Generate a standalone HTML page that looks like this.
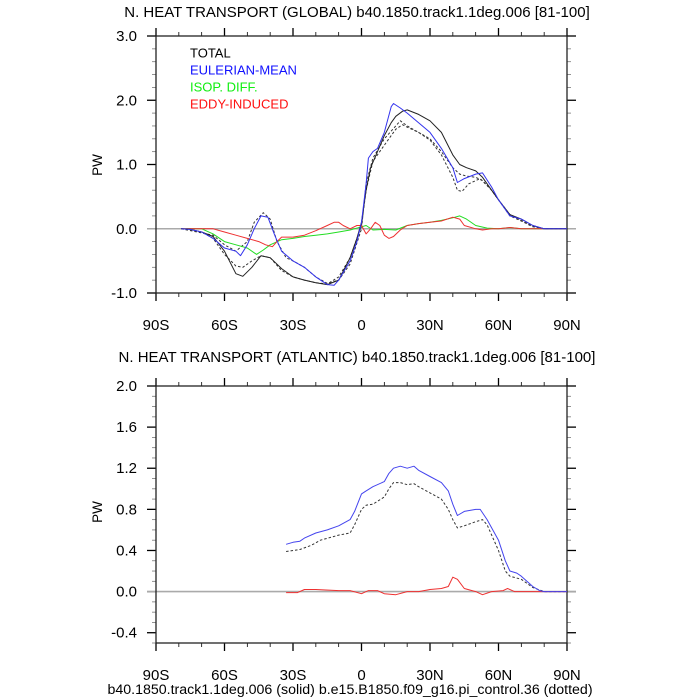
<!DOCTYPE html>
<html><head><meta charset="utf-8">
<style>
body{margin:0;background:#fff;}
svg{display:block;font-family:"Liberation Sans",sans-serif;}
</style></head>
<body>
<svg id="c" width="700" height="700" viewBox="0 0 700 700">
<text x="357" y="17" font-size="15" text-anchor="middle">N. HEAT TRANSPORT (GLOBAL) b40.1850.track1.1deg.006 [81-100]</text>
<text x="357" y="362" font-size="15" text-anchor="middle">N. HEAT TRANSPORT (ATLANTIC) b40.1850.track1.1deg.006 [81-100]</text>
<text x="350" y="694" font-size="14.2" text-anchor="middle">b40.1850.track1.1deg.006 (solid) b.e15.B1850.f09_g16.pi_control.36 (dotted)</text>
<text transform="translate(102,165) rotate(-90)" font-size="13.5" text-anchor="middle">PW</text>
<text transform="translate(102,512) rotate(-90)" font-size="13.5" text-anchor="middle">PW</text>
<g font-size="13">
<text x="190" y="57.5" fill="#000">TOTAL</text>
<text x="190" y="74.5" fill="#1010ff">EULERIAN-MEAN</text>
<text x="190" y="91.5" fill="#10ee10">ISOP. DIFF.</text>
<text x="190" y="108.5" fill="#ff1010">EDDY-INDUCED</text>
</g>
</svg>
<script>
// ---- Global panel data ----
const gTotLat=[-79,-75,-70,-65,-60,-55,-52,-48,-44,-40,-35,-30,-25,-20,-15,-10,-5,-2,0,2,4,7,10,13,15,18,20,25,30,35,40,43,46,50,53,57,60,65,70,75,80,85,90];
const gTotVal=[0,-0.01,-0.05,-0.12,-0.35,-0.7,-0.74,-0.6,-0.42,-0.45,-0.62,-0.75,-0.8,-0.84,-0.87,-0.8,-0.45,-0.15,0.1,0.6,0.95,1.2,1.45,1.65,1.75,1.83,1.85,1.78,1.68,1.5,1.15,1.0,0.95,0.9,0.8,0.6,0.45,0.22,0.15,0.05,0,0,0];
const gEulLat=[-79,-75,-70,-65,-60,-55,-53,-50,-47,-44,-41,-38,-35,-30,-25,-20,-15,-12,-10,-5,-2,0,2,3,5,7,10,13,14,17,20,25,30,35,40,42,45,50,53,57,60,65,70,75,80,90];
const gEulVal=[0,-0.01,-0.05,-0.15,-0.3,-0.35,-0.42,-0.25,0.0,0.2,0.18,-0.1,-0.35,-0.5,-0.6,-0.75,-0.87,-0.88,-0.8,-0.5,-0.2,0.1,0.7,1.1,1.2,1.25,1.5,1.9,1.95,1.88,1.8,1.65,1.5,1.25,0.95,0.72,0.78,0.85,0.87,0.65,0.45,0.2,0.15,0.05,0,0];
const gTotCtlLat=[-79,-70,-65,-60,-55,-52,-48,-44,-40,-35,-30,-25,-20,-15,-10,-5,0,2,5,10,15,18,20,25,30,35,40,43,46,50,53,57,60,65,70,75,80,90];
const gTotCtlVal=[0,-0.05,-0.15,-0.4,-0.58,-0.6,-0.5,-0.42,-0.45,-0.65,-0.75,-0.8,-0.84,-0.86,-0.75,-0.45,0.05,0.6,1.05,1.3,1.55,1.62,1.58,1.5,1.4,1.2,0.95,0.85,0.82,0.8,0.75,0.6,0.45,0.22,0.13,0.04,0,0];
const gEulCtlLat=[-79,-65,-60,-55,-50,-47,-43,-40,-37,-33,-30,-25,-20,-15,-10,-5,0,2,5,10,15,17,20,25,30,35,40,42,44,47,52,57,60,65,70,75,80,90];
const gEulCtlVal=[0,-0.1,-0.25,-0.35,-0.2,0.1,0.25,0.15,-0.2,-0.45,-0.5,-0.6,-0.75,-0.85,-0.8,-0.55,0,0.7,1.1,1.4,1.6,1.68,1.6,1.5,1.38,1.15,0.8,0.6,0.58,0.7,0.78,0.6,0.45,0.2,0.12,0.03,0,0];
const gIsoLat=[-79,-70,-65,-60,-55,-50,-46,-43,-40,-35,-30,-25,-20,-15,-10,-5,0,2,5,10,15,20,25,30,35,40,43,46,50,55,60,65,70,80,90];
const gIsoVal=[0,0,-0.08,-0.2,-0.25,-0.3,-0.4,-0.33,-0.25,-0.17,-0.15,-0.12,-0.1,-0.08,-0.05,-0.02,0.03,0.05,-0.02,-0.01,-0.02,0.05,0.08,0.1,0.13,0.17,0.2,0.15,0.05,0.01,0,0.02,0,0,0];
const gEddLat=[-79,-70,-65,-60,-55,-50,-45,-42,-39,-37,-35,-30,-25,-20,-15,-12,-10,-8,-5,-2,0,2,4,6,8,10,12,14,17,20,25,30,35,40,43,45,50,53,57,60,65,70,80,90];
const gEddVal=[0,0,0,-0.05,-0.1,-0.15,-0.2,-0.25,-0.28,-0.2,-0.13,-0.13,-0.1,-0.03,0.05,0.1,0.1,0.05,0,0.05,0.05,-0.08,0,0.1,0.05,-0.1,-0.15,-0.12,-0.02,0.05,0.08,0.1,0.12,0.18,0.15,0.05,0,-0.02,0,0,0.02,0,0,0];
// ---- Atlantic panel data ----
const aEulLat=[-33,-30,-27,-25,-20,-15,-10,-5,-3,0,2,5,10,12,14,17,20,23,25,30,35,38,40,42,45,50,52,55,60,63,65,68,70,75,78,80,90];
const aEulVal=[0.46,0.48,0.49,0.52,0.57,0.6,0.64,0.7,0.78,0.95,0.98,1.02,1.07,1.15,1.2,1.22,1.2,1.22,1.18,1.12,1.06,0.98,0.85,0.74,0.78,0.8,0.8,0.7,0.5,0.3,0.2,0.18,0.15,0.05,0.01,0,0];
const aCtlLat=[-33,-27,-22,-18,-10,-5,-3,0,2,5,10,12,14,17,20,23,25,30,35,38,40,42,45,50,53,55,60,63,65,70,75,80,90];
const aCtlVal=[0.39,0.41,0.45,0.5,0.55,0.57,0.65,0.8,0.84,0.85,0.92,1.0,1.06,1.06,1.04,1.05,1.02,0.96,0.9,0.8,0.7,0.62,0.64,0.68,0.7,0.65,0.4,0.2,0.15,0.12,0.04,0,0];
const aEddLat=[-33,-28,-25,-20,-10,-5,0,3,7,10,15,20,25,30,35,38,40,42,45,50,53,57,62,64,67,75,90];
const aEddVal=[-0.01,-0.01,0.02,0.02,0.01,0.01,-0.02,0.01,0.01,-0.02,-0.03,0,0,0.02,0.03,0.05,0.14,0.12,0.03,0,-0.03,0,0.01,0.03,0,0,0];
const xTickLabels=["90S","60S","30S","0","30N","60N","90N"];
const gYTicks=["-1.0","0.0","1.0","2.0","3.0"];
const aYTicks=["-0.4","0.0","0.4","0.8","1.2","1.6","2.0"];

const svg=document.getElementById('c');
const NS='http://www.w3.org/2000/svg';
const L=156,R=567;
const xs=lat=>L+(lat+90)/180*(R-L);
function mk(tag,at){const e=document.createElementNS(NS,tag);for(const k in at)e.setAttribute(k,at[k]);svg.appendChild(e);return e;}

function panel(name,top,bot,ymin,ymax,yminor,yLabels){
  const ys=v=>bot-(v-ymin)/(ymax-ymin)*(bot-top);
  for(let lat=-90;lat<=90;lat+=10){
    const maj=lat%30===0, len=maj?8:4, x=xs(lat);
    const t1=mk('line',{x1:x,y1:bot,x2:x,y2:bot+len,stroke:'#000','stroke-width':maj?1.3:0.8});
    
    
    const t2=mk('line',{x1:x,y1:top,x2:x,y2:top-len,stroke:'#000','stroke-width':maj?1.3:0.8});
    
    
  }
  xTickLabels.forEach((s,i)=>{
    const t=mk('text',{x:xs(-90+30*i),y:bot+37,'font-size':15,'text-anchor':'middle'});
    t.textContent=s;
    
    
  });
  const nMin=Math.round((ymax-ymin)/yminor);
  for(let i=0;i<=nMin;i++){
    const v=ymin+i*yminor, y=ys(v);
    const isMaj=yLabels.some(s=>Math.abs(parseFloat(s)-v)<1e-6);
    const len=isMaj?9:4;
    const a=mk('line',{x1:L,y1:y,x2:L-len,y2:y,stroke:isMaj?'#000':'#777','stroke-width':isMaj?1.3:0.8});
    
    
    const b=mk('line',{x1:R,y1:y,x2:R+len,y2:y,stroke:isMaj?'#000':'#777','stroke-width':isMaj?1.3:0.8});
    
    
  }
  yLabels.forEach(s=>{
    const t=mk('text',{x:137,y:ys(parseFloat(s))+5,'font-size':15,'text-anchor':'end'});
    t.textContent=s;
    
    
  });
  const z=mk('line',{x1:L-9,y1:ys(0),x2:R+9,y2:ys(0),stroke:'#aaa','stroke-width':1.6});
  
  
  const f=mk('rect',{x:L,y:top,width:R-L,height:bot-top,fill:'none',stroke:'#222','stroke-width':1.3});
  
  
  return ys;
}
function series(ys,lats,vals,color,dotted,name){
  const d=lats.map((la,i)=>(i?'L':'M')+xs(la).toFixed(1)+' '+ys(vals[i]).toFixed(1)).join(' ');
  const p=mk('path',{d:d,fill:'none',stroke:color,'stroke-width':1,'stroke-dasharray':dotted?'2.5 2':'none','stroke-linejoin':'round'});
  
  
}
const gy=panel('global',36,293,-1,3,0.2,gYTicks);
series(gy,gTotCtlLat,gTotCtlVal,'#333',true,'global-total-control-line');
series(gy,gEulCtlLat,gEulCtlVal,'#333',true,'global-eulerian-control-line');
series(gy,gIsoLat,gIsoVal,'#22dd22',false,'global-isop-diff-line');
series(gy,gEddLat,gEddVal,'#ee3030',false,'global-eddy-induced-line');
series(gy,gTotLat,gTotVal,'#222',false,'global-total-line');
series(gy,gEulLat,gEulVal,'#3333ee',false,'global-eulerian-mean-line');

const ay=panel('atlantic',386,643,-0.5,2.0,0.1,aYTicks);
series(ay,aCtlLat,aCtlVal,'#333',true,'atlantic-control-line');
series(ay,aEddLat,aEddVal,'#ee3030',false,'atlantic-eddy-induced-line');
series(ay,aEulLat,aEulVal,'#4444ee',false,'atlantic-eulerian-mean-line');
</script>
</body></html>
